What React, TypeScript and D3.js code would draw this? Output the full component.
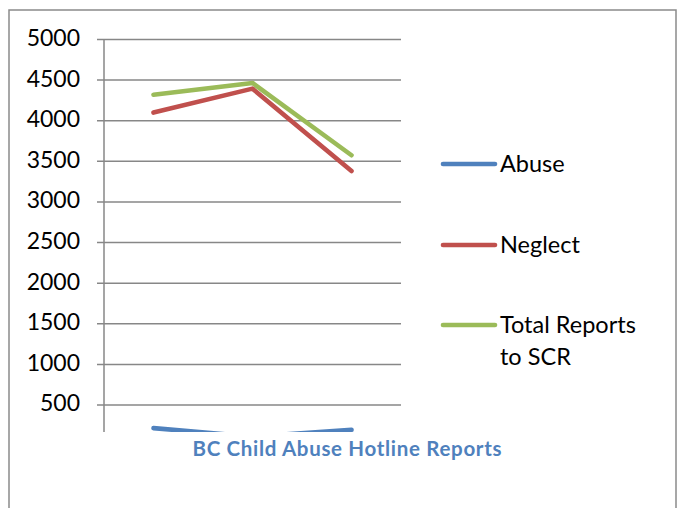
import React from "react";
import * as d3 from "d3";

// Hotline report counts by period (three periods, unlabeled on the category axis)
const periods = ["P1", "P2", "P3"];
const abuse = [215, 110, 195];
const neglect = [4100, 4395, 3380];
const totalReports = [4320, 4465, 3575];
const yTicks = [500, 1000, 1500, 2000, 2500, 3000, 3500, 4000, 4500, 5000];

const seriesNames = ["Abuse", "Neglect", "Total Reports to SCR"];
const seriesColors = ["#4f81bd", "#c0504d", "#9bbb59"];

const W = 677;
const H = 508;
const plot = { left: 104, right: 401, top: 30, bottom: 432 };
const gridColor = "#878787";
const font = "Lato, 'Open Sans', sans-serif";

export default function App() {
  const x = d3
    .scaleBand<string>()
    .domain(periods)
    .range([plot.left, plot.right]);
  const y = d3.scaleLinear().domain([0, 5000]).range([445.6, 39.5]);

  const line = d3
    .line<number>()
    .x((_, i) => (x(periods[i]) as number) + x.bandwidth() / 2)
    .y((d) => y(d));

  const data = [abuse, neglect, totalReports];

  const legendY = [164, 245, 325];

  return (
    <svg
      width={W}
      height={H}
      style={{ position: "absolute", left: 0, top: 0, background: "#fff" }}
    >
      <defs>
        <clipPath id="plotClip">
          <rect
            x={plot.left - 10}
            y={plot.top}
            width={plot.right - plot.left + 20}
            height={plot.bottom - plot.top}
          />
        </clipPath>
      </defs>
      {/* chart frame */}
      <rect
        x={9}
        y={10}
        width={667}
        height={520}
        fill="#fff"
        stroke="#8a8a8a"
        strokeWidth={1.5}
      />

      {/* gridlines and tick marks */}
      {yTicks.map((t) => (
        <line
          key={t}
          x1={97}
          x2={plot.right}
          y1={y(t)}
          y2={y(t)}
          stroke={gridColor}
          strokeWidth={1.5}
        />
      ))}
      {/* value axis */}
      <line
        x1={plot.left}
        x2={plot.left}
        y1={y(5000)}
        y2={plot.bottom}
        stroke={gridColor}
        strokeWidth={1.5}
      />
      {yTicks.map((t) => (
        <text
          key={"l" + t}
          x={80}
          y={y(t) + 6.5}
          textAnchor="end"
          fontFamily={font}
          fontSize={23}
          fill="#000"
        >
          {t}
        </text>
      ))}

      {/* series lines */}
      <g clipPath="url(#plotClip)">
        {data.map((vals, i) => (
          <path
            key={seriesNames[i]}
            d={line(vals) as string}
            fill="none"
            stroke={seriesColors[i]}
            strokeWidth={4.6}
            strokeLinecap="round"
            strokeLinejoin="round"
          />
        ))}
      </g>

      {/* title */}
      <text
        x={347}
        y={456}
        textAnchor="middle"
        fontFamily={font}
        fontWeight="bold"
        fontSize={20.5}
        textLength={309}
        lengthAdjust="spacing"
        fill="#4f81bd"
      >
        BC Child Abuse Hotline Reports
      </text>

      {/* legend */}
      {seriesNames.map((name, i) => (
        <g key={"lg" + name}>
          <line
            x1={443}
            x2={495}
            y1={legendY[i]}
            y2={legendY[i]}
            stroke={seriesColors[i]}
            strokeWidth={4.6}
            strokeLinecap="round"
          />
          {i < 2 ? (
            <text
              x={500}
              y={legendY[i] + 8.3}
              fontFamily={font}
              fontSize={23.5}
              fill="#000"
            >
              {name}
            </text>
          ) : (
            <text
              x={500}
              y={legendY[i] + 8.3}
              fontFamily={font}
              fontSize={23.5}
              fill="#000"
            >
              <tspan x={500}>Total Reports</tspan>
              <tspan x={500} dy={31.7}>
                to SCR
              </tspan>
            </text>
          )}
        </g>
      ))}
    </svg>
  );
}
